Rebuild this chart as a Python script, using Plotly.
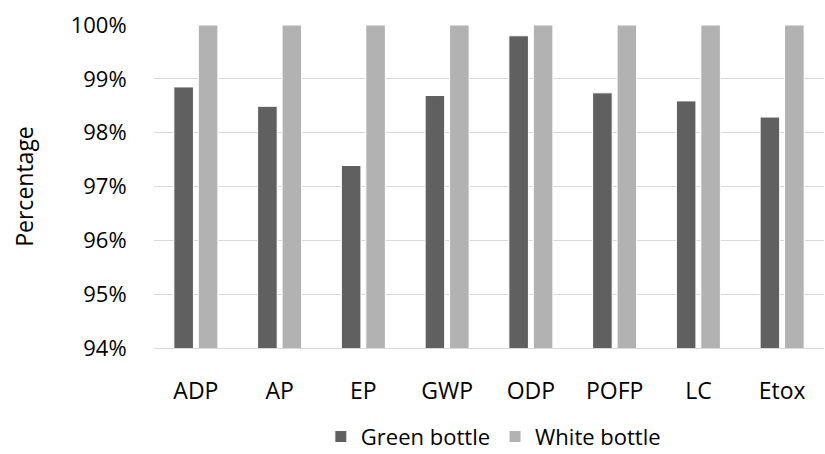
import plotly.graph_objects as go

categories = ["ADP", "AP", "EP", "GWP", "ODP", "POFP", "LC", "Etox"]
green_bottle = [0.9885, 0.9849, 0.9739, 0.9869, 0.9980, 0.9874, 0.9859, 0.9829]
white_bottle = [1.0, 1.0, 1.0, 1.0, 1.0, 1.0, 1.0, 1.0]
y_ticks = [0.94, 0.95, 0.96, 0.97, 0.98, 0.99, 1.00]

FONT = "Open Sans"

fig = go.Figure()
fig.add_trace(go.Bar(x=categories, y=green_bottle, name="Green bottle",
                     marker=dict(color="#606060", line=dict(color="white", width=1))))
fig.add_trace(go.Bar(x=categories, y=white_bottle, name="White bottle",
                     marker=dict(color="#b2b2b2", line=dict(color="white", width=1))))

fig.update_layout(
    width=825, height=454,
    margin=dict(l=154, r=1, t=25, b=106),
    paper_bgcolor="white", plot_bgcolor="white",
    barmode="group", bargap=0.416, bargroupgap=0.2,
    font=dict(family=FONT, size=22, color="#000000"),
    showlegend=True,
    legend=dict(orientation="h", x=0.598, xanchor="center", y=0.038, yanchor="middle",
                xref="container", yref="container", font=dict(size=22, color="#000000"),
                itemwidth=30, traceorder="normal"),
)
fig.update_yaxes(range=[0.94, 1.0], tickvals=y_ticks, tickformat=".0%",
                 showgrid=True, gridcolor="#d9d9d9", gridwidth=1.3,
                 zeroline=False, showline=False,
                 ticks="outside", ticklen=22, tickcolor="rgba(0,0,0,0)",
                 title=dict(text="Percentage", standoff=30, font=dict(size=23)),
                 automargin=False, tickfont=dict(size=22))
fig.update_xaxes(showline=True, linecolor="#d9d9d9", linewidth=1.3,
                 ticks="outside", ticklen=22, tickcolor="rgba(0,0,0,0)",
                 tickfont=dict(size=23), automargin=False)

fig.write_html("out.html")
